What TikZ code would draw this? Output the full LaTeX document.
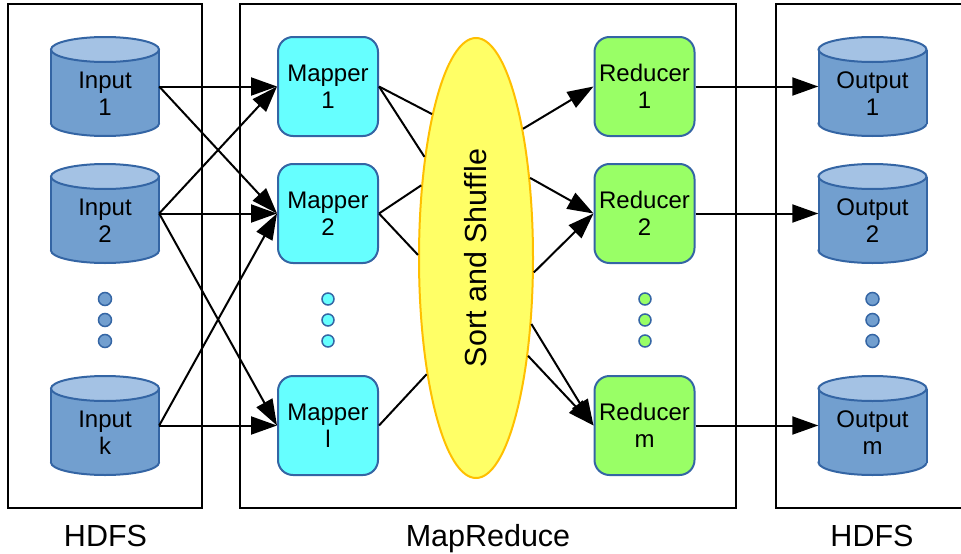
\documentclass[tikz,border=0pt]{standalone}
\usepackage{fontspec}
\setmainfont{Liberation Sans}
\usetikzlibrary{arrows.meta,shapes.geometric}
\definecolor{cylbody}{HTML}{729FCF}
\definecolor{cyltop}{HTML}{A4C2E4}
\definecolor{blueline}{HTML}{3465A4}
\definecolor{mapfill}{HTML}{66FFFF}
\definecolor{redfill}{HTML}{99FF66}
\definecolor{ssfill}{HTML}{FFFF66}
\definecolor{ssline}{HTML}{FFBF00}
\tikzset{
  cylline/.style={draw=blueline, line width=2pt},
  cylshape/.style={rectangle, draw=none, inner sep=0pt, minimum width=108pt, minimum height=99pt},
  cyltext/.style={align=center, inner sep=0pt, font=\fontsize{24}{26.5}\selectfont},
  procbox/.style={rectangle, rounded corners=15pt, draw=blueline, line width=2pt, minimum width=100pt, minimum height=99pt, inner sep=0pt, align=center, font=\fontsize{24}{26.5}\selectfont},
  mapbox/.style={procbox, fill=mapfill},
  redbox/.style={procbox, fill=redfill},
  frame/.style={draw=black, line width=2.2pt},
  arr/.style={draw=black, line width=2pt, -{Triangle[length=26pt,width=18pt]}},
  ln/.style={draw=black, line width=2pt},
  lbl/.style={inner sep=0pt, font=\fontsize{30.5}{36}\selectfont},
  dotst/.style={draw=blueline, line width=1.5pt},
}
\newcommand{\dbcyl}[4]{%
  \filldraw[cylline,fill=cylbody] (#2,#3+37) ellipse [x radius=54, y radius=12.5];
  \fill[cylbody] (#2-54,#3-37) rectangle (#2+54,#3+37);
  \draw[cylline] (#2-54,#3-37) -- (#2-54,#3+37) (#2+54,#3-37) -- (#2+54,#3+37);
  \filldraw[cylline,fill=cyltop] (#2,#3-37) ellipse [x radius=54, y radius=12.5];
  \node[cylshape] (#1) at (#2,#3) {};
  \node[cyltext] (#1t) at (#2,#3+7) {#4};
}
\begin{document}
\begin{tikzpicture}[x=1pt,y=-1pt]
\useasboundingbox (0,0) rectangle (961,554);
% frames
\draw[frame] (8,4) rectangle (202,508);
\draw[frame] (240,4) rectangle (736,508);
\draw[frame] (961,4) -- (776,4) -- (776,508) -- (961,508);
% labels
\node[lbl, anchor=base] (h1) at (105.5,546) {HDFS};
\node[lbl, anchor=base] (h2) at (488,546) {MapReduce};
\node[lbl, anchor=base] (h3) at (872,546) {HDFS};
% inputs
\dbcyl{in1}{105}{86.5}{Input\\1}
\dbcyl{in2}{105}{213.5}{Input\\2}
\dbcyl{ink}{105}{425.5}{Input\\k}
% outputs
\dbcyl{out1}{872.5}{86.5}{Output\\1}
\dbcyl{out2}{872.5}{213.5}{Output\\2}
\dbcyl{outm}{872.5}{425.5}{Output\\m}
% mappers
\node[mapbox] (m1) at (328,86.5) {Mapper\\1};
\node[mapbox] (m2) at (328,213.5) {Mapper\\2};
\node[mapbox] (ml) at (328,425.5) {Mapper\\l};
% reducers
\node[redbox] (r1) at (644.5,86.5) {Reducer\\1};
\node[redbox] (r2) at (644.5,213.5) {Reducer\\2};
\node[redbox] (rm) at (644.5,425.5) {Reducer\\m};
% sort and shuffle
\node[ellipse, draw=ssline, fill=ssfill, line width=2pt, minimum width=114pt, minimum height=440pt, inner sep=0pt] (ss) at (476,258) {};
\node[lbl, rotate=90] (sst) at (476,258) {Sort and Shuffle};
% dots
\foreach \y in {299,320,341}{
  \filldraw[dotst, fill=cylbody] (105,\y) circle [radius=6.5];
  \filldraw[dotst, fill=mapfill] (328,\y) circle [radius=6];
  \filldraw[dotst, fill=redfill] (645,\y) circle [radius=6];
  \filldraw[dotst, fill=cylbody] (872.5,\y) circle [radius=6.5];
}
% input -> mapper
\draw[arr] (in1.east) -- (m1.west);
\draw[arr] (in1.east) -- (m2.west);
\draw[arr] (in2.east) -- (m1.west);
\draw[arr] (in2.east) -- (m2.west);
\draw[arr] (in2.east) -- (ml.west);
\draw[arr] (ink.east) -- (m2.west);
\draw[arr] (ink.east) -- (ml.west);
% mapper -> sort
\draw[ln] (m1.east) -- (ss.107.4);
\draw[ln] (m1.east) -- (ss.117.9);
\draw[ln] (m2.east) -- (ss.127.6);
\draw[ln] (m2.east) -- (ss.177);
\draw[ln] (ml.east) -- (ss.247.6);
% sort -> reducer
\draw[arr] (ss.70.1) -- (r1.west);
\draw[arr] (ss.56.9) -- (r2.west);
\draw[arr] (ss.-14.7) -- (r2.west);
\draw[arr] (ss.-50.6) -- (rm.west);
\draw[arr] (ss.-62.8) -- (rm.west);
% reducer -> output
\draw[arr] (r1.east) -- (out1.west);
\draw[arr] (r2.east) -- (out2.west);
\draw[arr] (rm.east) -- (outm.west);
\end{tikzpicture}
\end{document}
